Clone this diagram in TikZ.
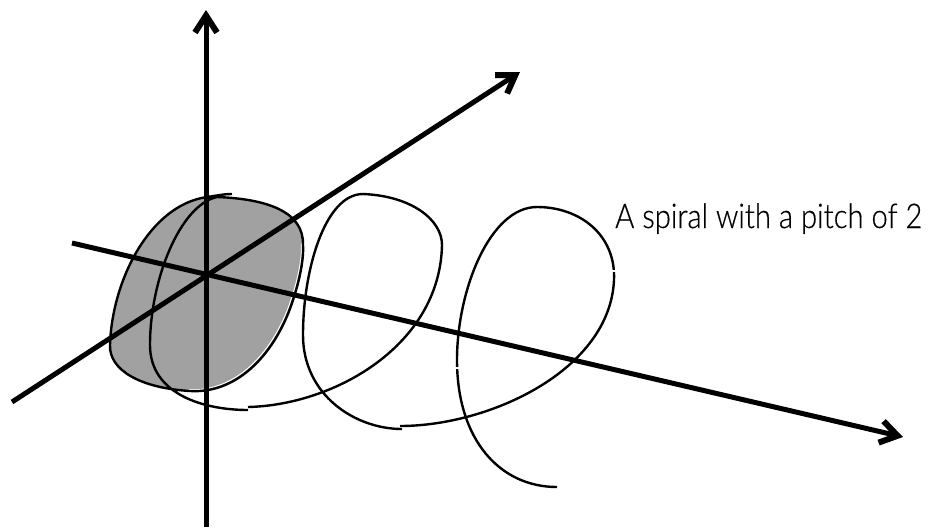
\documentclass[tikz,border=0pt]{standalone}
\usepackage{fontspec}
\newfontfamily\lblfont[UprightFont={* Light},FakeStretch=0.86,FakeBold=0.4]{Lato}
\usetikzlibrary{arrows.meta}
\tikzset{
  axisline/.style={line width=5pt,-{Straight Barb[length=17pt,width=22pt,line width=6pt]}},
  spiralline/.style={line width=2.4pt,line cap=butt,line join=round},
  spiraltick/.style={white,line width=1.2pt},
  lbl/.style={inner sep=0pt,anchor=base west,font=\lblfont\fontsize{34}{36}\selectfont}
}
\begin{document}
\begin{tikzpicture}[x=1pt,y=-1pt]
\useasboundingbox (0,0) rectangle (934,531);
\fill[black!37] (217,197) -- (207,197)
  .. controls (150,205) and (112,280) .. (110,345)
  .. controls (109,370) and (140,388) .. (190,391)
  .. controls (240,394) and (277,350) .. (293,300)
  .. controls (298,285) and (304,262) .. (303,245)
  .. controls (304,212) and (268,199) .. (217,197) -- cycle;
\draw[white,line width=1pt,xshift=-1.6pt,yshift=1.4pt] (190,391)
  .. controls (240,394) and (277,350) .. (293,300)
  .. controls (298,285) and (304,262) .. (303,245);
\draw[spiralline] (232,194)
  .. controls (223,194) and (215,196) .. (207,197)
  .. controls (150,205) and (112,280) .. (110,345)
  .. controls (109,370) and (140,388) .. (190,391)
  .. controls (240,394) and (277,350) .. (293,300)
  .. controls (298,285) and (304,262) .. (303,245)
  .. controls (304,212) and (268,199) .. (217,197)
  .. controls (180,205) and (150,280) .. (150,345)
  .. controls (150,395) and (205,410) .. (248,410);
\draw[spiralline] (248,407)
  .. controls (335,405) and (440,345) .. (442,245)
  .. controls (442,220) and (412,196) .. (363,194)
  .. controls (325,194) and (303,270) .. (303,335)
  .. controls (303,395) and (355,429) .. (402,429);
\draw[spiralline] (400,426)
  .. controls (490,426) and (610,370) .. (614,280)
  .. controls (616,235) and (580,207) .. (537,207)
  .. controls (490,207) and (457,290) .. (457,360)
  .. controls (457,440) and (500,487) .. (557,487);
\draw[spiraltick] (455,368) -- (459,368);
\draw[spiraltick] (612,271) -- (617,271);
\coordinate (vs) at (206,527); \coordinate (ve) at (206,10);
\coordinate (ds) at (12,402); \coordinate (de) at (520,72);
\coordinate (hs) at (72,243); \coordinate (he) at (903,437);
\draw[axisline] (vs) -- (ve);
\draw[axisline] (ds) -- (de);
\draw[axisline] (hs) -- (he);
\node[lbl] (label) at (615,228) {A spiral with a pitch of 2};
\end{tikzpicture}
\end{document}
